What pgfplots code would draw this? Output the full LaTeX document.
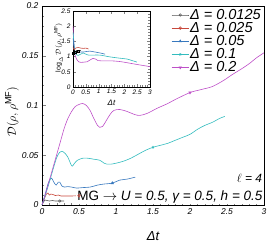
\documentclass[border=0pt]{standalone}
\usepackage{pgfplots}
\pgfplotsset{compat=1.18}
\usepackage{fontspec}
\setmainfont{Liberation Sans}
\definecolor{cgrey}{RGB}{85,85,85}
\definecolor{cred}{RGB}{200,72,60}
\definecolor{cblue}{RGB}{55,120,190}
\definecolor{ccyan}{RGB}{50,188,190}
\definecolor{cmag}{RGB}{190,80,200}
\begin{document}
\begin{tikzpicture}
\begin{axis}[
  at={(0,0)}, anchor=south west,
  scale only axis, width=222pt, height=199pt,
  xmin=0, xmax=3, ymin=0, ymax=0.2,
  xtick={0,0.5,...,3}, ytick={0,0.05,0.1,0.15,0.2},
  minor x tick num=4, minor y tick num=4,
  tick align=inside, xtick pos=bottom, ytick pos=left,
  major tick length=4pt, minor tick length=2pt,
  axis line style={line width=0.8pt},
  scaled ticks=false,
  /pgf/number format/assume math mode=true,
  /pgf/number format/fixed, /pgf/number format/precision=3,
  ticklabel style={font=\fontsize{8.5}{10}\selectfont\itshape},
  xlabel={\itshape Δt}, ylabel={$\mathcal{D}(\rho,\rho^{\mathrm{MF}})$},
  xlabel style={font=\fontsize{13}{14}\selectfont, at={(axis description cs:0.5,-0.155)}, anchor=center},
  ylabel style={font=\fontsize{13}{14}\selectfont, at={(axis description cs:-0.135,0.47)}, anchor=center},
  legend style={at={(0.995,0.995)}, anchor=north east, draw=none, fill=none,
    font=\fontsize{14.5}{15}\selectfont\itshape, row sep=-0.5pt, inner sep=1pt,
    nodes={inner sep=1pt}},
  legend cell align=left,
  every axis plot/.append style={line width=0.6pt, mark size=1.3pt, mark repeat=200},
]
\addplot[cgrey, smooth, mark=o, mark phase=8, mark options={solid,fill=white}] coordinates {
(0,0) (0.02,0.003) (0.04,0.005) (0.07,0.0045) (0.1,0.004) (0.14,0.0045) (0.18,0.004) (0.24,0.004) (0.3,0.004)};
\addlegendentry{Δ = 0.0125}
\addplot[cred, smooth, mark=o, mark phase=14, mark options={solid,fill=white}] coordinates {
(0,0) (0.03,0.006) (0.06,0.011) (0.08,0.012) (0.1,0.010) (0.12,0.011) (0.15,0.0105) (0.18,0.0095) (0.22,0.010) (0.26,0.009) (0.3,0.009) (0.38,0.009) (0.45,0.0092) (0.5,0.0095) (0.56,0.0093) (0.62,0.0093)};
\addlegendentry{Δ = 0.025}
\addplot[cblue, smooth, mark=triangle*, mark phase=19] coordinates {
(0,0) (0.04,0.010) (0.08,0.021) (0.11,0.026) (0.13,0.027) (0.16,0.023) (0.19,0.020) (0.22,0.023) (0.24,0.023) (0.27,0.019) (0.3,0.018) (0.35,0.0185) (0.4,0.018) (0.47,0.017) (0.55,0.0175) (0.65,0.018) (0.75,0.020) (0.83,0.021) (0.95,0.022) (1.05,0.025) (1.15,0.026) (1.26,0.028)};
\addlegendentry{Δ = 0.05}
\addplot[ccyan, smooth, mark=star, mark phase=26] coordinates {
(0,0) (0.05,0.011) (0.1,0.023) (0.15,0.036) (0.2,0.048) (0.24,0.053) (0.27,0.054) (0.31,0.052) (0.35,0.048) (0.39,0.041) (0.41,0.039) (0.44,0.042) (0.48,0.045) (0.55,0.047) (0.62,0.047) (0.7,0.046) (0.78,0.045) (0.84,0.042) (0.88,0.041) (0.93,0.041) (1.0,0.042) (1.1,0.044) (1.2,0.047) (1.3,0.051) (1.4,0.055) (1.5,0.058) (1.6,0.060) (1.7,0.062) (1.8,0.065) (1.9,0.068) (2.0,0.071) (2.1,0.076) (2.2,0.080) (2.3,0.083) (2.4,0.087) (2.47,0.089)};
\addlegendentry{Δ = 0.1}
\addplot[cmag, smooth, mark=triangle*, mark phase=30, mark options={rotate=180}] coordinates {
(0,0) (0.05,0.012) (0.1,0.025) (0.15,0.038) (0.2,0.051) (0.25,0.064) (0.3,0.077) (0.35,0.087) (0.4,0.094) (0.45,0.099) (0.5,0.101) (0.55,0.102) (0.6,0.100) (0.65,0.095) (0.7,0.087) (0.75,0.080) (0.78,0.078) (0.82,0.079) (0.87,0.085) (0.92,0.091) (0.97,0.095) (1.05,0.096) (1.15,0.094) (1.25,0.091) (1.32,0.090) (1.42,0.092) (1.55,0.097) (1.7,0.102) (1.8,0.106) (2.0,0.113) (2.15,0.116) (2.3,0.119) (2.45,0.125) (2.57,0.131) (2.7,0.137) (2.8,0.142) (2.9,0.148) (3.0,0.153)};
\addlegendentry{Δ = 0.2}
\node[anchor=east, fill=white, inner sep=1pt, font=\fontsize{13.5}{14}\selectfont] at (axis cs:2.995,0.0085) {MG $\rightarrow$ \itshape U = 0.5, γ = 0.5, h = 0.5};
\node[anchor=east, inner sep=1pt, font=\fontsize{12}{13}\selectfont] at (axis cs:2.99,0.027) {$\ell$ \itshape = 4};
\end{axis}
\begin{axis}[
  at={(31pt,118pt)}, anchor=south west,
  scale only axis, width=77pt, height=76pt,
  xmin=0, xmax=3, ymin=0, ymax=2.5,
  xtick={0,0.5,...,3}, ytick={0,0.5,...,2.5},
  minor x tick num=4, minor y tick num=4,
  tick align=inside,
  major tick length=3pt, minor tick length=1.5pt,
  axis line style={line width=0.8pt},
  axis background/.style={fill=white},
  scaled ticks=false,
  /pgf/number format/assume math mode=true,
  /pgf/number format/fixed, /pgf/number format/precision=2,
  ticklabel style={font=\fontsize{6.5}{7}\selectfont\itshape},
  xticklabel style={yshift=1pt},
  yticklabel style={xshift=1pt},
  xlabel={\itshape Δt}, ylabel={$\log_{\Delta}\mathcal{D}(\rho,\rho^{\mathrm{MF}})$},
  xlabel style={font=\fontsize{8}{9}\selectfont, at={(axis description cs:0.5,-0.21)}, anchor=center},
  ylabel style={font=\fontsize{7}{8}\selectfont, at={(axis description cs:-0.19,0.52)}, anchor=center},
  every axis plot/.append style={line width=0.6pt},
]
\addplot[cmag, smooth] coordinates {
(0.005,2.0) (0.03,1.5) (0.06,1.15) (0.1,1.0) (0.15,0.9) (0.22,0.83) (0.3,0.81) (0.45,0.82) (0.55,0.83) (0.65,0.88) (0.78,0.94) (0.88,0.92) (0.97,0.87) (1.1,0.86) (1.3,0.86) (1.5,0.86) (1.8,0.84) (2.1,0.80) (2.5,0.74) (3.0,0.67)};
\addplot[ccyan, smooth] coordinates {
(0.005,1.8) (0.05,1.3) (0.1,1.1) (0.2,1.04) (0.3,1.08) (0.39,1.12) (0.5,1.08) (0.6,1.05) (0.8,1.05) (1.05,1.05) (1.25,1.02) (1.44,0.99) (1.8,0.95) (2.1,0.92) (2.3,0.87) (2.49,0.82)};
\addplot[cblue, smooth] coordinates {
(0.005,1.6) (0.05,1.25) (0.1,1.15) (0.2,1.14) (0.3,1.15) (0.4,1.15) (0.55,1.17) (0.66,1.18) (0.8,1.16) (1.05,1.12) (1.25,1.08)};
\addplot[cred, smooth] coordinates {
(0.005,1.3) (0.05,1.22) (0.1,1.28) (0.2,1.3) (0.3,1.28) (0.4,1.27) (0.5,1.28) (0.6,1.25)};
\addplot[black, smooth, mark=square, mark size=1pt, mark repeat=2] coordinates {
(0.005,1.1) (0.05,1.2) (0.1,1.15) (0.15,1.2) (0.2,1.18) (0.3,1.2)};
\end{axis}
\pgfresetboundingbox
\path (-42pt,-43pt) rectangle (227pt,205pt);
\end{tikzpicture}
\end{document}
